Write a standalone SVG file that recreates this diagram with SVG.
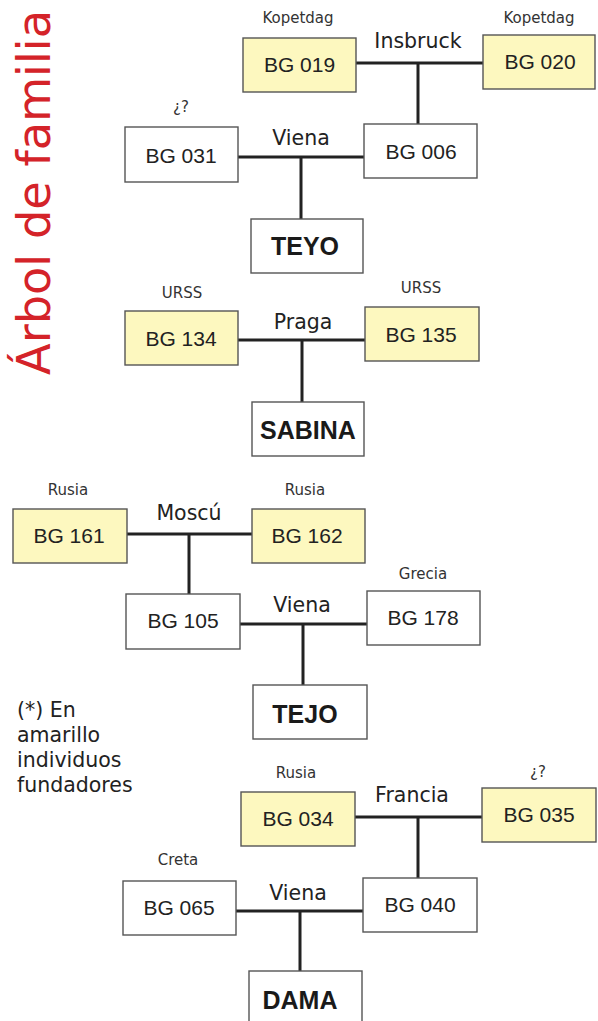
<svg xmlns="http://www.w3.org/2000/svg" width="598" height="1021" viewBox="0 0 598 1021">
<style>
.b{fill:#fff;stroke:#555;stroke-width:1.4}
.y{fill:#fdf8bf;stroke:#555;stroke-width:1.4}
.t{font-family:"Liberation Sans",Arial,sans-serif;font-size:21px;fill:#222;text-anchor:middle}
.n{font-family:"Liberation Sans",Arial,sans-serif;font-weight:bold;font-size:25px;fill:#1a1a1a;text-anchor:middle}
.s{font-family:"DejaVu Sans",sans-serif;font-size:15px;fill:#333;text-anchor:middle}
.c{font-family:"DejaVu Sans",sans-serif;font-size:20.5px;fill:#222;text-anchor:middle}
.l{font-family:"DejaVu Sans",sans-serif;font-size:20.5px;fill:#222}
.k{stroke:#222;stroke-width:3;fill:none}
</style>
<rect width="598" height="1021" fill="#fff"/>
<text id="title" transform="translate(50,375) rotate(-90)" font-family="DejaVu Sans,sans-serif" font-size="47" fill="#d42329" textLength="365" lengthAdjust="spacingAndGlyphs">Árbol de familia</text>

<g id="connectors">
<path class="k" d="M356 63H483M418 63V124"/>
<path class="k" d="M238 157H364M301 157V219"/>
<path class="k" d="M238 340H365M302 340V402"/>
<path class="k" d="M127 534H252M189 534V594"/>
<path class="k" d="M240 624H367M303 624V685"/>
<path class="k" d="M355 817H482M418 817V878"/>
<path class="k" d="M236 911H363M300 911V971"/>
<text class="c" x="418" y="48">Insbruck</text>
<text class="c" x="301" y="145">Viena</text>
<text class="c" x="303" y="329">Praga</text>
<text class="c" x="189" y="520">Moscú</text>
<text class="c" x="302" y="612">Viena</text>
<text class="c" x="412" y="802">Francia</text>
<text class="c" x="298" y="900">Viena</text>
</g>

<g id="bg019"><rect class="y" x="243" y="38" width="113" height="54"/><text class="t" x="299.5" y="72">BG 019</text><text class="s" x="298" y="23" font-size="16">Kopetdag</text></g>
<g id="bg020"><rect class="y" x="483" y="35" width="112" height="54"/><text class="t" x="540" y="69">BG 020</text><text class="s" x="539" y="23" font-size="16">Kopetdag</text></g>
<g id="bg031"><rect class="b" x="125" y="127" width="113" height="55"/><text class="t" x="181" y="163">BG 031</text><text class="s" x="181" y="112">¿?</text></g>
<g id="bg006"><rect class="b" x="364" y="124" width="113" height="54"/><text class="t" x="421" y="159">BG 006</text></g>
<g id="teyo"><rect class="b" x="251" y="219" width="112" height="54"/><text class="n" x="305" y="255">TEYO</text></g>

<g id="bg134"><rect class="y" x="125" y="311" width="113" height="54"/><text class="t" x="181" y="346">BG 134</text><text class="s" x="182" y="298">URSS</text></g>
<g id="bg135"><rect class="y" x="365" y="307" width="114" height="54"/><text class="t" x="421" y="342">BG 135</text><text class="s" x="421" y="293">URSS</text></g>
<g id="sabina"><rect class="b" x="252" y="402" width="112" height="54"/><text class="n" x="308" y="439">SABINA</text></g>

<g id="bg161"><rect class="y" x="13" y="509" width="114" height="54"/><text class="t" x="69" y="543">BG 161</text><text class="s" x="68" y="495">Rusia</text></g>
<g id="bg162"><rect class="y" x="252" y="509" width="113" height="54"/><text class="t" x="307" y="543">BG 162</text><text class="s" x="305" y="495">Rusia</text></g>
<g id="bg105"><rect class="b" x="126" y="594" width="114" height="55"/><text class="t" x="183" y="628">BG 105</text></g>
<g id="bg178"><rect class="b" x="367" y="591" width="113" height="54"/><text class="t" x="423" y="625">BG 178</text><text class="s" x="423" y="579">Grecia</text></g>
<g id="tejo"><rect class="b" x="253" y="685" width="114" height="54"/><text class="n" x="305" y="723">TEJO</text></g>

<g id="legend">
<text class="l" x="17" y="717">(*) En</text>
<text class="l" x="17" y="742">amarillo</text>
<text class="l" x="17" y="767">individuos</text>
<text class="l" x="17" y="792">fundadores</text>
</g>

<g id="bg034"><rect class="y" x="241" y="792" width="114" height="54"/><text class="t" x="298" y="826">BG 034</text><text class="s" x="296" y="778">Rusia</text></g>
<g id="bg035"><rect class="y" x="482" y="788" width="114" height="54"/><text class="t" x="539" y="822">BG 035</text><text class="s" x="538" y="777">¿?</text></g>
<g id="bg065"><rect class="b" x="123" y="881" width="113" height="54"/><text class="t" x="179" y="915">BG 065</text><text class="s" x="178" y="865">Creta</text></g>
<g id="bg040"><rect class="b" x="363" y="878" width="114" height="54"/><text class="t" x="420" y="912">BG 040</text></g>
<g id="dama"><rect class="b" x="249" y="971" width="113" height="54"/><text class="n" x="300" y="1009">DAMA</text></g>
</svg>
